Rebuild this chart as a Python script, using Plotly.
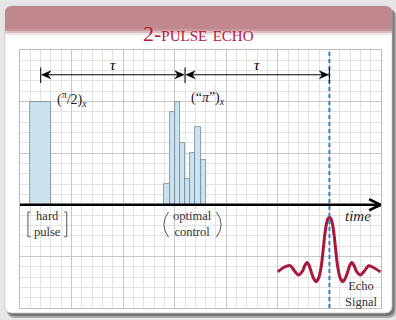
import plotly.graph_objects as go

# ---- data (time in grid cells, amplitude in grid cells) ----
hard_time = [2.0]
hard_amp = [10.0]

oc_time = [14.25, 14.75, 15.25, 15.75, 16.25, 16.75, 17.25, 17.75]
oc_amp = [2.0, 9.0, 10.0, 6.0, 2.5, 5.0, 7.5, 4.3]

echo_time = [25.0, 25.6, 26.2, 26.6, 27.0, 27.4, 27.6, 27.83, 28.0, 28.2, 28.45,
             28.7, 28.95, 29.2, 29.4, 29.55, 29.7, 29.85, 30.0, 30.15, 30.3,
             30.45, 30.6, 30.8, 31.05, 31.3, 31.55, 31.8, 32.0, 32.17, 32.4,
             32.6, 33.0, 33.4, 33.8, 34.2, 34.95]
echo_amp = [-6.5, -6.05, -5.9, -6.4, -6.8, -6.4, -5.9, -5.6, -5.8, -6.4, -7.1,
            -7.45, -7.1, -6.0, -4.3, -2.9, -1.9, -1.35, -1.2, -1.35, -1.9,
            -2.9, -4.3, -6.0, -7.1, -7.45, -7.1, -6.4, -5.8, -5.6, -5.9,
            -6.4, -6.8, -6.4, -5.9, -6.05, -6.5]

event_times = [2, 16, 30]          # pulse centres and echo time
tau_labels = ["τ", "τ"]

W, H = 396, 320
ML, MR, MT, MB = 20, 15, 50, 12
PW, PH = W - ML - MR, H - MT - MB


def px(xp):
    return (xp - ML) / PW


def py(yp):
    return (H - MB - yp) / PH


def rrect(x0, y0, x1, y1, r, top_only=False):
    """Rounded rectangle path in paper coords from pixel coords."""
    rb = 0 if top_only else r
    pts = [
        f"M {px(x0 + r)},{py(y0)}",
        f"L {px(x1 - r)},{py(y0)}",
        f"Q {px(x1)},{py(y0)} {px(x1)},{py(y0 + r)}",
        f"L {px(x1)},{py(y1 - rb)}",
        f"Q {px(x1)},{py(y1)} {px(x1 - rb)},{py(y1)}",
        f"L {px(x0 + rb)},{py(y1)}",
        f"Q {px(x0)},{py(y1)} {px(x0)},{py(y1 - rb)}",
        f"L {px(x0)},{py(y0 + r)}",
        f"Q {px(x0)},{py(y0)} {px(x0 + r)},{py(y0)}",
        "Z",
    ]
    return " ".join(pts)


def stealth(x, y, direction):
    """Filled stealth arrow head with its tip at (x, y), pointing +1 right / -1 left."""
    d = direction
    return (f"M {x},{y} L {x - d * 0.9},{y + 0.38} L {x - d * 0.62},{y} "
            f"L {x - d * 0.9},{y - 0.38} Z")


fig = go.Figure()

bar_fill = "#cce2ef"
bar_edge = "#6d8597"

fig.add_trace(go.Bar(x=hard_time, y=hard_amp, width=2.0, base=0,
                     marker=dict(color=bar_fill, line=dict(color=bar_edge, width=0.8)),
                     hoverinfo="skip"))
fig.add_trace(go.Bar(x=oc_time, y=oc_amp, width=0.5, base=0,
                     marker=dict(color=bar_fill, line=dict(color=bar_edge, width=0.8)),
                     hoverinfo="skip"))
fig.add_trace(go.Scatter(x=echo_time, y=echo_amp, mode="lines",
                         line=dict(color="#a8183c", width=3, shape="spline", smoothing=0.8),
                         hoverinfo="skip"))

shapes = []
# frame, shadow and title bar
shapes.append(dict(type="path", xref="paper", yref="paper", layer="below",
                   path=rrect(7, 9, 396, 318, 8), fillcolor="rgba(60,60,60,0.35)", line=dict(width=0)))
shapes.append(dict(type="path", xref="paper", yref="paper", layer="below",
                   path=rrect(7, 8, 394.5, 316, 8), fillcolor="rgba(50,50,50,0.45)", line=dict(width=0)))
shapes.append(dict(type="path", xref="paper", yref="paper", layer="below",
                   path=rrect(5, 6, 392, 313, 7), fillcolor="white",
                   line=dict(color="#c9c9c9", width=0.8)))
shapes.append(dict(type="path", xref="paper", yref="paper", layer="below",
                   path=rrect(5, 6, 392, 29, 7, top_only=True), fillcolor="#c0878f", line=dict(width=0)))
for (a, b, c) in [(29, 31, "#c9979e"), (31, 33, "#dcbcc1"), (33, 35, "#f1e4e6")]:
    shapes.append(dict(type="rect", xref="paper", yref="paper", layer="below",
                       x0=px(5), x1=px(392), y0=py(b), y1=py(a), fillcolor=c, line=dict(width=0)))

# echo time marker
shapes.append(dict(type="line", xref="x", yref="paper", x0=event_times[2], x1=event_times[2],
                   y0=0, y1=1, line=dict(color="#2f7fc1", width=2, dash="4px,3px")))

# time axis with open arrow head
shapes.append(dict(type="line", xref="x", yref="y", x0=0, x1=34.9, y0=0, y1=0,
                   line=dict(color="black", width=2.6)))
shapes.append(dict(type="path", xref="x", yref="y",
                   path="M 33.85,0.55 Q 34.5,0.2 35,0 Q 34.5,-0.2 33.85,-0.55",
                   line=dict(color="black", width=2.6)))

# tau interval arrows with tick marks
arrow_y = 12.6
for t in event_times:
    shapes.append(dict(type="line", xref="x", yref="y", x0=t, x1=t, y0=11.8, y1=13.3,
                       line=dict(color="#222", width=1.2)))
for a, b in zip(event_times[:-1], event_times[1:]):
    shapes.append(dict(type="line", xref="x", yref="y", x0=a + 0.3, x1=b - 0.3,
                       y0=arrow_y, y1=arrow_y, line=dict(color="black", width=1)))
    shapes.append(dict(type="path", xref="x", yref="y", path=stealth(a + 0.08, arrow_y, -1),
                       fillcolor="black", line=dict(color="black", width=0.5)))
    shapes.append(dict(type="path", xref="x", yref="y", path=stealth(b - 0.08, arrow_y, 1),
                       fillcolor="black", line=dict(color="black", width=0.5)))

# brackets around "hard pulse"
bc = "#555"
shapes.append(dict(type="path", xref="x", yref="y",
                   path="M 1.02,-0.7 L 0.77,-0.7 L 0.77,-3.1 L 1.02,-3.1", line=dict(color=bc, width=1)))
shapes.append(dict(type="path", xref="x", yref="y",
                   path="M 4.28,-0.7 L 4.53,-0.7 L 4.53,-3.1 L 4.28,-3.1", line=dict(color=bc, width=1)))
# parentheses around "optimal control"
shapes.append(dict(type="path", xref="x", yref="y",
                   path="M 14.4,-0.7 Q 13.5,-1.9 14.4,-3.15", line=dict(color=bc, width=1)))
shapes.append(dict(type="path", xref="x", yref="y",
                   path="M 19.05,-0.7 Q 19.95,-1.9 19.05,-3.15", line=dict(color=bc, width=1)))

serif = "Liberation Serif"
ann = []
for (a, b), lab in zip(zip(event_times[:-1], event_times[1:]), tau_labels):
    ann.append(dict(x=(a + b) / 2, y=13.5, xref="x", yref="y", text=f"<i>{lab}</i>",
                    showarrow=False, font=dict(family=serif, size=15, color="black")))

ann.append(dict(x=3.4, y=10.3, xref="x", yref="y", xanchor="left",
                text="(<sup>π</sup>/2)<sub><i>x</i></sub>", showarrow=False,
                font=dict(family=serif, size=14, color="#222")))
ann.append(dict(x=16.4, y=10.3, xref="x", yref="y", xanchor="left",
                text="(“<i>π</i>”)<sub><i>x</i></sub>", showarrow=False,
                font=dict(family=serif, size=14, color="#222")))
ann.append(dict(x=32.8, y=-1.1, xref="x", yref="y", text="<i>time</i>", showarrow=False,
                font=dict(family=serif, size=15, color="#222")))
ann.append(dict(x=2.65, y=-1.9, xref="x", yref="y", text="hard<br>pulse", showarrow=False,
                font=dict(family=serif, size=12.5, color="#333")))
ann.append(dict(x=16.72, y=-1.9, xref="x", yref="y", text="optimal<br>control", showarrow=False,
                font=dict(family=serif, size=12.5, color="#333")))
ann.append(dict(x=33.05, y=-8.6, xref="x", yref="y", text="Echo<br>Signal", showarrow=False,
                font=dict(family=serif, size=12.5, color="#333")))
# title
ann.append(dict(x=px(198.5), y=py(19), xref="paper", yref="paper", text="2-pulse echo",
                showarrow=False, font=dict(family=serif, size=22, color="#b31d3c", variant="small-caps")))

fig.update_layout(
    width=W, height=H,
    margin=dict(l=ML, r=MR, t=MT, b=MB, pad=0),
    paper_bgcolor="#e5e5e5", plot_bgcolor="white",
    showlegend=False, barmode="overlay", bargap=0,
    shapes=shapes, annotations=ann,
    xaxis=dict(range=[0, 35], tick0=0, dtick=5, showgrid=True, gridcolor="#c6c6c6", gridwidth=1,
               minor=dict(dtick=1, showgrid=True, gridcolor="#e2e2e2", gridwidth=1),
               showticklabels=False, ticks="", zeroline=False,
               showline=True, linecolor="#bcbcbc", linewidth=1, mirror=True, fixedrange=True),
    yaxis=dict(range=[-10, 15], tick0=0, dtick=5, showgrid=True, gridcolor="#c6c6c6", gridwidth=1,
               minor=dict(dtick=1, showgrid=True, gridcolor="#e2e2e2", gridwidth=1),
               showticklabels=False, ticks="", zeroline=False,
               showline=True, linecolor="#bcbcbc", linewidth=1, mirror=True, fixedrange=True),
)

fig.write_html("out.html")
